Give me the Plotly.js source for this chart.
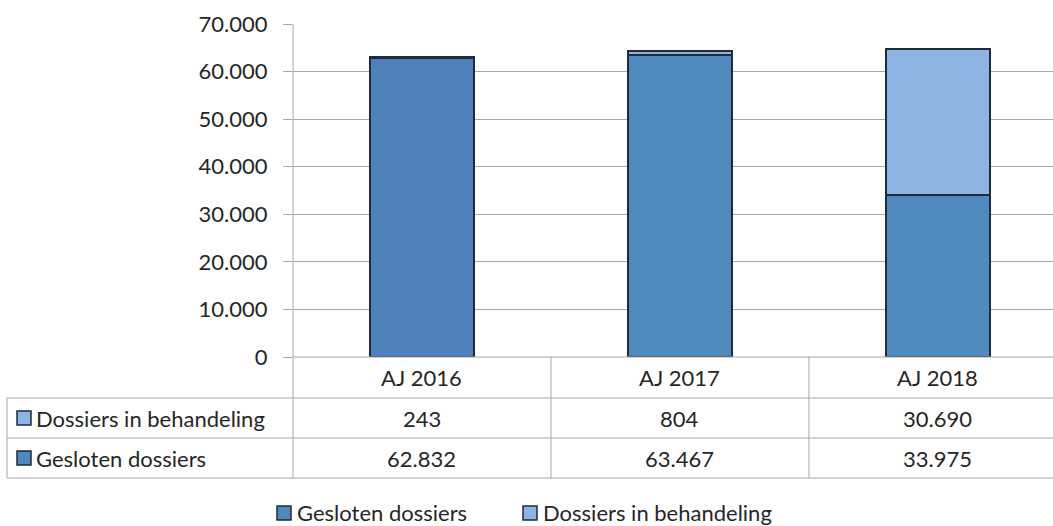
<!DOCTYPE html>
<html>
<head>
<meta charset="utf-8">
<script src="https://cdn.plot.ly/plotly-3.0.1.min.js"></script>
<style>html,body{margin:0;padding:0;background:#fff;}#chart{width:1053px;height:526px;}</style>
</head>
<body>
<div id="chart"></div>
<script>
const categories = ["AJ 2016", "AJ 2017", "AJ 2018"];
const gesloten = [62832, 63467, 33975];
const inBehandeling = [243, 804, 30690];
const gesloten_labels = ["62.832", "63.467", "33.975"];
const behandeling_labels = ["243", "804", "30.690"];
const seriesNames = ["Gesloten dossiers", "Dossiers in behandeling"];

const W = 1053, H = 526;
const L = 293, R = 0, T = 24, B = 169;
const pw = W - L - R, ph = H - T - B;
const px = v => (v - L) / pw;
const py = v => (H - B - v) / ph;

const darkBlue = ["#4F81BD", "#4F89BD", "#4F89BD"];
const lightBlue = "#8EB4E3";
const edge = "#1F2A3A";
const gridC = "#A6A6A6";
const font = "Lato, 'Open Sans', sans-serif";
const txtC = "#262626";
const fs = 22;

const traces = [
  {type: "bar", name: seriesNames[0], x: categories, y: gesloten, width: 0.4,
   marker: {color: darkBlue, line: {color: edge, width: 2}}, hoverinfo: "y"},
  {type: "bar", name: seriesNames[1], x: categories, y: inBehandeling, width: 0.4,
   marker: {color: lightBlue, line: {color: edge, width: 2}}, hoverinfo: "y"}
];

const shapes = [];
const line = (x0, y0, x1, y1) => ({type: "line", xref: "paper", yref: "paper",
  x0: px(x0), y0: py(y0), x1: px(x1), y1: py(y1), line: {color: gridC, width: 1}});
shapes.push(line(7, 398, 1053, 398));
shapes.push(line(7, 438, 1053, 438));
shapes.push(line(7, 478, 1053, 478));
shapes.push(line(293, 357, 1053, 357));
shapes.push(line(7, 398, 7, 478));
shapes.push(line(293, 24, 293, 478));
for (let i = 0; i < categories.length - 1; i++) {
  shapes.push({type: "line", xref: "x", yref: "paper", x0: i + 0.5, x1: i + 0.5,
    y0: py(357), y1: py(478), line: {color: gridC, width: 1}});
}
const key = (xl, yc, col) => ({type: "rect", xref: "paper", yref: "paper",
  x0: px(xl), x1: px(xl + 14), y0: py(yc - 7), y1: py(yc + 7), fillcolor: col,
  line: {color: edge, width: 1.5}});
shapes.push(key(17, 418, lightBlue));
shapes.push(key(17, 458, darkBlue[1]));
shapes.push(key(277, 513, darkBlue[1]));
shapes.push(key(523, 513, lightBlue));

const annotations = [];
const rowsCenter = [377, 418, 458];
const txt = (xref, x, xanchor, y, text) => ({xref: xref, yref: "paper", x: x, xanchor: xanchor,
  y: py(y), yanchor: "middle", text: text, showarrow: false,
  font: {family: font, size: fs, color: txtC}});
categories.forEach((c, i) => {
  annotations.push(txt("x", c, "center", rowsCenter[0], c));
  annotations.push(txt("x", c, "center", rowsCenter[1], behandeling_labels[i]));
  annotations.push(txt("x", c, "center", rowsCenter[2], gesloten_labels[i]));
});
annotations.push(txt("paper", px(34), "left", rowsCenter[1], seriesNames[1]));
annotations.push(txt("paper", px(34), "left", rowsCenter[2], seriesNames[0]));
annotations.push(txt("paper", px(295), "left", 512, seriesNames[0]));
annotations.push(txt("paper", px(541), "left", 512, seriesNames[1]));

const layout = {
  width: W, height: H,
  margin: {l: L, r: R, t: T, b: B, pad: 0, autoexpand: false},
  paper_bgcolor: "#fff", plot_bgcolor: "#fff",
  barmode: "stack",
  separators: ",.",
  font: {family: font, size: fs, color: txtC},
  xaxis: {range: [-0.5, 2.446], showticklabels: false, showgrid: false, zeroline: false,
    showline: false, ticks: "", fixedrange: true},
  yaxis: {range: [0, 70000], dtick: 10000, tickformat: ",d", showgrid: true, gridcolor: gridC,
    gridwidth: 1, zeroline: false, showline: false, ticks: "outside", ticklen: 9, tickcolor: gridC,
    tickfont: {family: font, size: fs, color: txtC}, ticklabelstandoff: 11},
  showlegend: false,
  shapes: shapes,
  annotations: annotations
};

Plotly.newPlot("chart", traces, layout, {displayModeBar: false, staticPlot: true});
</script>
</body>
</html>
